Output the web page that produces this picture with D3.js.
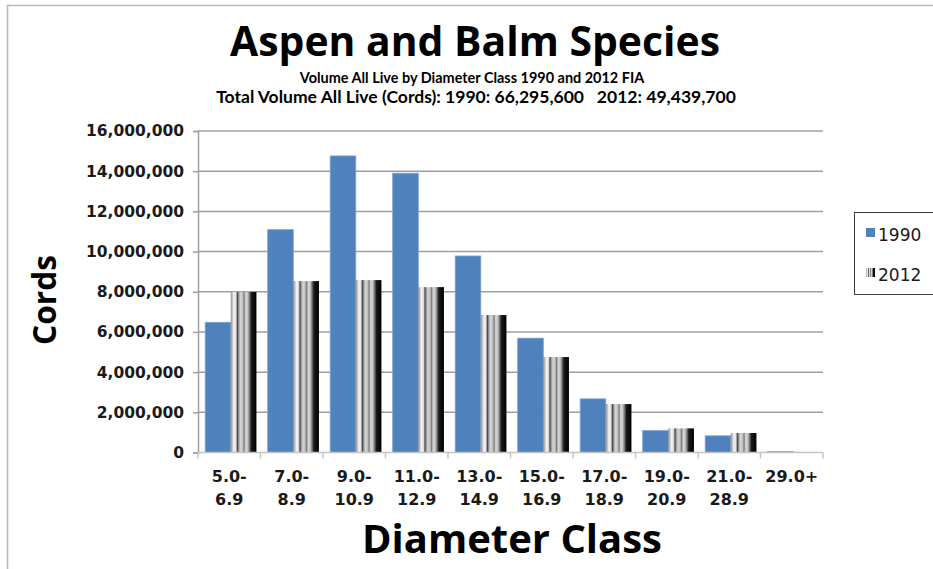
<!DOCTYPE html>
<html>
<head>
<meta charset="utf-8">
<script src="https://cdn.jsdelivr.net/npm/d3@7/dist/d3.min.js"></script>
<style>
  body { margin: 0; background: #fff; }
  svg { display: block; }
</style>
</head>
<body>
<svg id="chart"></svg>
<script>
// data
const categories = ["5.0- 6.9", "7.0- 8.9", "9.0- 10.9", "11.0- 12.9", "13.0- 14.9",
                    "15.0- 16.9", "17.0- 18.9", "19.0- 20.9", "21.0- 28.9", "29.0+"];
const vol1990 = [6480000, 11090000, 14760000, 13900000, 9780000, 5690000, 2670000, 1090000, 830000, 50000];
const vol2012 = [7990000, 8530000, 8580000, 8230000, 6840000, 4750000, 2410000, 1200000, 970000, 0];
const yTicks = [0, 2000000, 4000000, 6000000, 8000000, 10000000, 12000000, 14000000, 16000000];
const seriesNames = ["1990", "2012"];

const width = 933, height = 569;
const plot = { left: 198, right: 823, top: 131, bottom: 452.5 };

const svg = d3.select("#chart").attr("width", width).attr("height", height);

// striped fill used for 2012
const defs = svg.append("defs");
const grad = defs.append("linearGradient").attr("id", "stripes")
    .attr("x1", 0).attr("x2", 1).attr("y1", 0).attr("y2", 0);
const stops = [
  [0, "#8c8c8c"], [0.07, "#c8c8c8"], [0.12, "#f4f4f4"], [0.2, "#e0e0e0"],
  [0.26, "#4a4a4a"], [0.31, "#9a9a9a"], [0.38, "#d6d6d6"], [0.46, "#c0c0c0"],
  [0.52, "#7a7a7a"], [0.58, "#d8d8d8"], [0.66, "#c4c4c4"], [0.74, "#6a6a6a"],
  [0.8, "#1a1a1a"], [1, "#000"]
];
grad.selectAll("stop").data(stops).enter().append("stop")
    .attr("offset", d => d[0]).attr("stop-color", d => d[1]);

// outer chart border (only top and left are visible)
svg.append("path").attr("d", "M7.5,600V5.5H940")
    .attr("fill", "none").attr("stroke", "#b8b8b8").attr("stroke-width", 1.5);

const x = d3.scaleBand().domain(categories).range([plot.left, plot.right]);
const y = d3.scaleLinear().domain([0, 16000000]).range([plot.bottom, plot.top]);
const step = x.step();
const barW = step * 0.41;
const off = step * 0.115;

// gridlines
svg.append("g").selectAll("line").data(yTicks.slice(1)).enter().append("line")
    .attr("x1", plot.left).attr("x2", plot.right)
    .attr("y1", d => y(d)).attr("y2", d => y(d))
    .attr("stroke", "#a0a0a0").attr("stroke-width", 1.5);

// y axis
const yAxis = svg.append("g").attr("transform", `translate(${plot.left},0)`)
    .call(d3.axisLeft(y).tickValues(yTicks).tickFormat(d3.format(",")).tickSize(5).tickPadding(9));
yAxis.select(".domain").attr("stroke", "#a0a0a0").attr("stroke-width", 1.5);
yAxis.selectAll(".tick line").attr("stroke", "#a0a0a0").attr("stroke-width", 1.5);
yAxis.selectAll(".tick text")
    .attr("font-family", "DejaVu Sans").attr("font-weight", "bold").attr("font-size", 15.5)
    .attr("fill", "#1a1a1a");

// bars
const g = svg.append("g");
g.selectAll(".b1990").data(categories).enter().append("rect")
    .attr("x", (d) => x(d) + off)
    .attr("y", (d, i) => y(vol1990[i]))
    .attr("width", barW)
    .attr("height", (d, i) => y(0) - y(vol1990[i]))
    .attr("fill", "#4f81bd").attr("stroke", "#7ea3d3").attr("stroke-width", 0.8);
g.selectAll(".b2012").data(categories).enter().append("rect")
    .attr("x", (d) => x(d) + off + barW)
    .attr("y", (d, i) => y(vol2012[i]))
    .attr("width", barW)
    .attr("height", (d, i) => y(0) - y(vol2012[i]))
    .attr("fill", "url(#stripes)");

// x axis line + ticks at category boundaries
const xa = svg.append("g");
xa.append("line").attr("x1", plot.left).attr("x2", plot.right)
    .attr("y1", y(0)).attr("y2", y(0)).attr("stroke", "#c4c4c4").attr("stroke-width", 1.5);
xa.selectAll(".tk").data(categories.concat(["end"])).enter().append("line")
    .attr("x1", (d, i) => plot.left + i * step).attr("x2", (d, i) => plot.left + i * step)
    .attr("y1", y(0)).attr("y2", y(0) + 6)
    .attr("stroke", "#c4c4c4").attr("stroke-width", 1.5);
const xl = xa.selectAll(".lbl").data(categories).enter().append("text")
    .attr("text-anchor", "middle")
    .attr("font-family", "DejaVu Sans").attr("font-weight", "bold").attr("font-size", 16)
    .attr("fill", "#1a1a1a");
xl.each(function (d) {
  const parts = d.split(" ");
  const t = d3.select(this);
  parts.forEach((p, k) => {
    t.append("tspan").attr("x", x(d) + step / 2).attr("y", 482 + k * 23).text(p);
  });
});

// fits a text element to a target width
function fit(sel, w) {
  const n = sel.node();
  const fs = +sel.attr("font-size");
  sel.attr("font-size", fs * w / n.getComputedTextLength());
  return sel;
}

const titleFont = "Open Sans";
fit(svg.append("text").attr("x", 475).attr("y", 56).attr("text-anchor", "middle")
    .attr("font-family", titleFont).attr("font-weight", "bold").attr("font-size", 36)
    .text("Aspen and Balm Species"), 490);
fit(svg.append("text").attr("x", 472).attr("y", 82.5).attr("text-anchor", "middle")
    .attr("font-family", "Lato").attr("font-weight", "bold").attr("font-size", 12)
    .text("Volume All Live by Diameter Class 1990 and 2012 FIA"), 345);
fit(svg.append("text").attr("x", 476).attr("y", 103).attr("text-anchor", "middle")
    .attr("font-family", "Lato").attr("font-weight", "bold").attr("font-size", 12)
    .attr("xml:space", "preserve")
    .text("Total Volume All Live (Cords): 1990: 66,295,600   2012: 49,439,700"), 520);

fit(svg.append("text").attr("transform", "translate(56,300) rotate(-90)").attr("text-anchor", "middle")
    .attr("font-family", titleFont).attr("font-weight", "bold").attr("font-size", 36)
    .text("Cords"), 90);
fit(svg.append("text").attr("x", 512).attr("y", 553).attr("text-anchor", "middle")
    .attr("font-family", titleFont).attr("font-weight", "bold").attr("font-size", 36)
    .text("Diameter Class"), 300);

// legend
const lg = svg.append("g");
lg.append("rect").attr("x", 854.5).attr("y", 212.5).attr("width", 120).attr("height", 82)
    .attr("fill", "#fff").attr("stroke", "#3a3a3a").attr("stroke-width", 1);
const fills = ["#4f81bd", "url(#stripes)"];
seriesNames.forEach((s, i) => {
  lg.append("rect").attr("x", 866).attr("y", 228 + i * 40).attr("width", 9).attr("height", 9)
    .attr("fill", fills[i]);
  lg.append("text").attr("x", 878).attr("y", 241 + i * 40)
    .attr("font-family", "DejaVu Sans").attr("font-size", 17).attr("fill", "#1a1a1a")
    .text(s);
});
</script>
</body>
</html>
